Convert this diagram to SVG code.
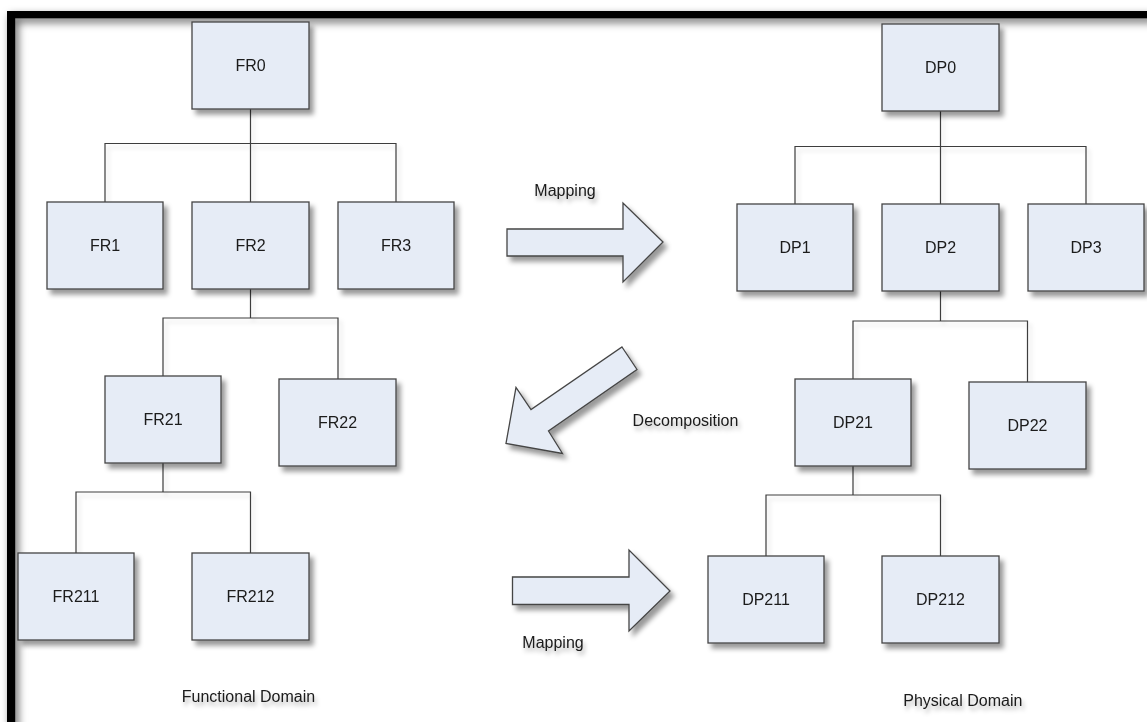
<svg xmlns="http://www.w3.org/2000/svg" width="1147" height="722" viewBox="0 0 1147 722">
<style>
.box{fill:#E6ECF6;stroke:#454545;stroke-width:1.3}
.lbl{font-family:"Liberation Sans",Arial,sans-serif;font-size:16px;fill:#1a1a1a;text-anchor:middle}
.con{fill:none;stroke:#3c3c3c;stroke-width:1.2}
.arr{fill:#E6ECF6;stroke:#454545;stroke-width:1.3;stroke-linejoin:miter}
</style>
<defs>
<filter id="sh" x="-20%" y="-20%" width="150%" height="150%">
<feDropShadow dx="4" dy="5" stdDeviation="2.5" flood-color="#000" flood-opacity="0.4"/>
</filter>
<filter id="shc" x="-20%" y="-20%" width="150%" height="150%">
<feDropShadow dx="3" dy="4" stdDeviation="2" flood-color="#000" flood-opacity="0.15"/>
</filter>
<filter id="sht" x="-20%" y="-50%" width="150%" height="250%">
<feDropShadow dx="2" dy="4" stdDeviation="2" flood-color="#000" flood-opacity="0.3"/>
</filter>
<filter id="shf" x="-5%" y="-5%" width="120%" height="120%">
<feDropShadow dx="3" dy="4" stdDeviation="4" flood-color="#000" flood-opacity="0.6"/>
</filter>
</defs>
<rect width="1147" height="722" fill="#fff"/>
<g id="frame" filter="url(#shf)">
<rect x="7" y="11" width="1145" height="7.3" fill="#000"/>
<rect x="7" y="11" width="8.2" height="720" fill="#000"/>
</g>
<g id="connectors" filter="url(#shc)">
<path class="con" d="M250.5,109 V143.5 M105,202 V143.5 H396 V202 M250.5,143.5 V202"/>
<path class="con" d="M250.5,289 V318 M163,376 V318 H338 V379"/>
<path class="con" d="M163,463 V492 M76,553 V492 H250.5 V553"/>
<path class="con" d="M940.5,111 V146.5 M795,204 V146.5 H1086 V204 M940.5,146.5 V204"/>
<path class="con" d="M940.5,291 V321 M853,379 V321 H1027.5 V382"/>
<path class="con" d="M853,466 V495 M766,556 V495 H940.5 V556"/>
</g>
<g id="FR0" filter="url(#sh)"><rect class="box" x="192" y="22" width="117" height="87"/><text class="lbl" x="250.5" y="71">FR0</text></g>
<g id="FR1" filter="url(#sh)"><rect class="box" x="47" y="202" width="116" height="87"/><text class="lbl" x="105" y="251">FR1</text></g>
<g id="FR2" filter="url(#sh)"><rect class="box" x="192" y="202" width="117" height="87"/><text class="lbl" x="250.5" y="251">FR2</text></g>
<g id="FR3" filter="url(#sh)"><rect class="box" x="338" y="202" width="116" height="87"/><text class="lbl" x="396" y="251">FR3</text></g>
<g id="FR21" filter="url(#sh)"><rect class="box" x="105" y="376" width="116" height="87"/><text class="lbl" x="163" y="425">FR21</text></g>
<g id="FR22" filter="url(#sh)"><rect class="box" x="279" y="379" width="117" height="87"/><text class="lbl" x="337.5" y="428">FR22</text></g>
<g id="FR211" filter="url(#sh)"><rect class="box" x="18" y="553" width="116" height="87"/><text class="lbl" x="76" y="602">FR211</text></g>
<g id="FR212" filter="url(#sh)"><rect class="box" x="192" y="553" width="117" height="87"/><text class="lbl" x="250.5" y="602">FR212</text></g>
<g id="DP0" filter="url(#sh)"><rect class="box" x="882" y="24" width="117" height="87"/><text class="lbl" x="940.5" y="73">DP0</text></g>
<g id="DP1" filter="url(#sh)"><rect class="box" x="737" y="204" width="116" height="87"/><text class="lbl" x="795" y="253">DP1</text></g>
<g id="DP2" filter="url(#sh)"><rect class="box" x="882" y="204" width="117" height="87"/><text class="lbl" x="940.5" y="253">DP2</text></g>
<g id="DP3" filter="url(#sh)"><rect class="box" x="1028" y="204" width="116" height="87"/><text class="lbl" x="1086" y="253">DP3</text></g>
<g id="DP21" filter="url(#sh)"><rect class="box" x="795" y="379" width="116" height="87"/><text class="lbl" x="853" y="428">DP21</text></g>
<g id="DP22" filter="url(#sh)"><rect class="box" x="969" y="382" width="117" height="87"/><text class="lbl" x="1027.5" y="431">DP22</text></g>
<g id="DP211" filter="url(#sh)"><rect class="box" x="708" y="556" width="116" height="87"/><text class="lbl" x="766" y="605">DP211</text></g>
<g id="DP212" filter="url(#sh)"><rect class="box" x="882" y="556" width="117" height="87"/><text class="lbl" x="940.5" y="605">DP212</text></g>
<g id="mapping-arrow-1" filter="url(#sh)"><polygon class="arr" points="507,229 623,229 623,203 663,242 623,282 623,256 507,256"/></g>
<g id="decomposition-arrow" filter="url(#sh)"><polygon class="arr" points="622,347 637,369.5 548.5,431 562.5,453.5 506,443.5 516,387.5 531,409.5"/></g>
<g id="mapping-arrow-2" filter="url(#sh)"><polygon class="arr" points="512.5,577 629,577 629,550 670,591 629,631 629,604.5 512.5,604.5"/></g>
<g id="labels" filter="url(#sht)">
<text class="lbl" x="565" y="196">Mapping</text>
<text class="lbl" x="685.5" y="426">Decomposition</text>
<text class="lbl" x="553" y="648">Mapping</text>
<text class="lbl" x="248.5" y="702">Functional Domain</text>
<text class="lbl" x="962.8" y="706">Physical Domain</text>
</g>
</svg>
